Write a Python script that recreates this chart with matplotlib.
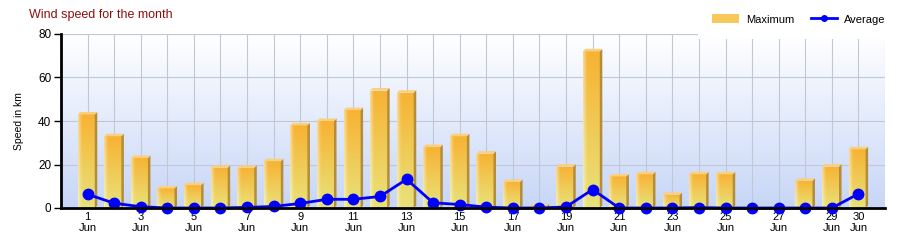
import numpy as np
import matplotlib
matplotlib.use("Agg")
import matplotlib.pyplot as plt
from matplotlib.patches import Polygon, Patch
from matplotlib.lines import Line2D

plt.rcParams['font.family'] = ['Liberation Sans', 'DejaVu Sans']

days = list(range(1, 31))
maximum = [43, 33, 23, 9, 10.5, 18.5, 18.5, 21.5, 38, 40, 45, 54, 53, 28, 33, 25, 12, 0.8,
           19, 72, 14.5, 15.5, 6, 15.5, 15.5, 0, 0, 12.5, 19, 27]
average = [6.3, 2.2, 0.6, 0, 0, 0, 0.3, 0.7, 2.1, 4, 4, 5.3, 13.2, 2.4, 1.6, 0.4, 0, 0,
           0.5, 8.5, 0, 0, 0, 0.2, 0, 0, 0, 0, 0, 6.5]
tick_days = [1, 3, 5, 7, 9, 11, 13, 15, 17, 19, 21, 23, 25, 27, 29, 30]
tick_labels = [f"{d}\nJun" for d in tick_days]
y_ticks = [0, 20, 40, 60, 80]

fig = plt.figure(figsize=(9, 2.4), dpi=100)
ax = fig.add_axes([61/900, 1-208/240, (885-61)/900, (208-34)/240])
ax.set_xlim(0, 31)
ax.set_ylim(0, 80)

# background gradient
bg = np.linspace(0, 1, 256)[:, None]
top = np.array([1.0, 1.0, 1.0])
bot = np.array([0.78, 0.84, 0.97])
bgimg = (top[None, None, :] * (1 - bg[..., None]) + bot[None, None, :] * bg[..., None])
bgimg = np.repeat(bgimg, 2, axis=1)
ax.imshow(bgimg, extent=[0, 1, 0, 1], transform=ax.transAxes, aspect='auto', zorder=0)

# grid
for d in range(1, 32):
    ax.axvline(d, color='#c3c7d3', lw=0.8, zorder=1)
for yv in y_ticks[1:]:
    ax.axhline(yv, color='#c3c7d3', lw=0.8, zorder=1)

# bars with 3D look
bw = 0.64
off = -0.05
dx = 0.095
dy = 1.15
fc_top = np.array([0.97, 0.70, 0.20])
fc_bot = np.array([0.91, 0.89, 0.48])
nv, nh = 64, 16
vv = np.linspace(0, 1, nv)[:, None, None]
face = fc_top[None, None, :] * (1 - vv) + fc_bot[None, None, :] * vv
face = np.repeat(face, nh, axis=1)
hh = np.linspace(0, 1, nh)
light = np.clip((0.22 - hh) / 0.22, 0, 1) * 0.45
face = face * (1 - light[None, :, None]) + light[None, :, None]

bars = ax.bar(np.array(days) + off, maximum, width=bw, color='#f4c050', zorder=2, lw=0)
for b, h in zip(bars, maximum):
    if h <= 0:
        continue
    x0 = b.get_x()
    x1 = x0 + b.get_width()
    im = ax.imshow(face, extent=[x0, x1, 0, h], aspect='auto', zorder=2.1)
    im.set_clip_path(b)
    side = Polygon([(x1, 0), (x1 + dx, min(dy, h)), (x1 + dx, h + dy), (x1, h)],
                   closed=True, facecolor='#b38d3c', edgecolor='none', zorder=2.2)
    ax.add_patch(side)
    tp = Polygon([(x0, h), (x0 + dx, h + dy), (x1 + dx, h + dy), (x1, h)],
                 closed=True, facecolor='#f9cf80', edgecolor='none', zorder=2.2)
    ax.add_patch(tp)

ax.plot(days, average, color='#0000ff', lw=2, marker='o', markersize=7.5, zorder=4,
        clip_on=False)

for s in ['top', 'right']:
    ax.spines[s].set_visible(False)
ax.spines['left'].set_linewidth(2)
ax.spines['bottom'].set_linewidth(2)
ax.spines['left'].set_zorder(5)
ax.spines['bottom'].set_zorder(5)

ax.set_yticks(y_ticks)
ax.set_yticklabels([str(v) for v in y_ticks], fontsize=8.5)
ax.tick_params(axis='y', length=5, width=1, pad=2)
ax.set_xticks(tick_days)
ax.set_xticklabels(tick_labels, fontsize=8, linespacing=1.15)
ax.tick_params(axis='x', length=0, pad=3)
ax.set_ylabel('Speed in km', fontsize=7.5, labelpad=10)

fig.text(29/900, 1-15/240, 'Wind speed for the month', color='#8b1010', fontsize=9,
         va='center', ha='left')

handles = [Patch(facecolor='#f7c85a', edgecolor='none'),
           Line2D([0], [0], color='#0000ff', lw=2, marker='o', markersize=4)]
leg = ax.legend(handles, ['Maximum', 'Average'], loc='upper right', ncol=2,
                bbox_to_anchor=(1.0, 1.0), bbox_transform=fig.transFigure,
                fontsize=8, frameon=True, facecolor='white', edgecolor='none',
                fancybox=False, borderpad=1.3, handlelength=2.4, handleheight=0.8,
                columnspacing=1.5, handletextpad=0.6, borderaxespad=0)
leg.get_frame().set_alpha(1)
leg.set_zorder(10)

fig.savefig('out.png', dpi=100)
